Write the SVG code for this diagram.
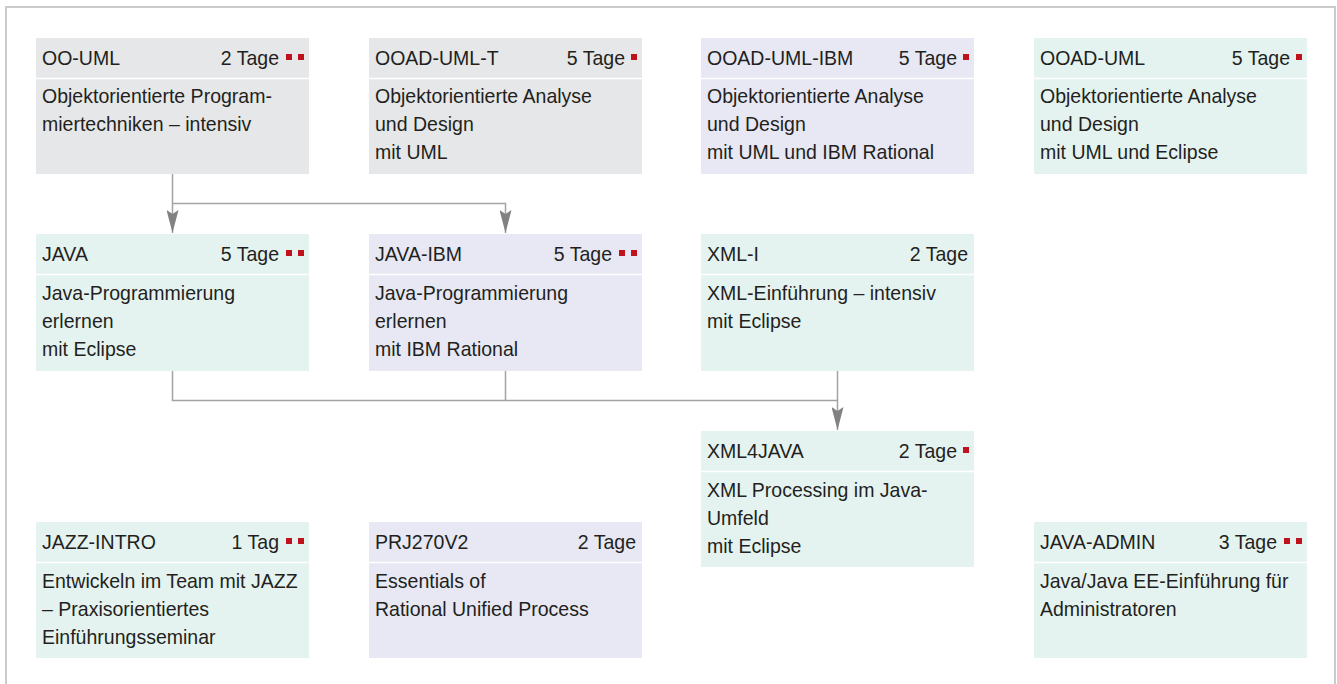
<svg xmlns="http://www.w3.org/2000/svg" width="1337" height="684" viewBox="0 0 1337 684">
<style>
  text { font-family: "Liberation Sans", Arial, sans-serif; font-size: 21px; fill: #231f20; }
  .r { text-anchor: end; }
  .grey { fill: #e6e7e8; }
  .lav { fill: #e7e8f4; }
  .mint { fill: #e5f3f0; }
  .div { stroke: #ffffff; stroke-width: 1.5; }
  .sq { fill: #c0121c; }
  .con { fill: none; stroke: #a3a3a3; stroke-width: 1.5; }
</style>
<defs>
  <marker id="arr" viewBox="0 0 23 12" refX="23" refY="6" markerWidth="23" markerHeight="12" markerUnits="userSpaceOnUse" orient="auto">
    <path d="M0,0 L23,6 L0,12 L4,6 Z" fill="#828282"/>
  </marker>
</defs>
<rect x="0" y="0" width="1337" height="684" fill="#ffffff"/>
<rect x="6" y="7" width="1329" height="720" fill="none" stroke="#cbcbcb" stroke-width="2"/>

<g id="connectors">
  <path class="con" d="M172.5,174 V233" marker-end="url(#arr)"/>
  <path class="con" d="M172.5,203.5 H505.5 V233" marker-end="url(#arr)"/>
  <path class="con" d="M172.5,371 V400.5 H837.5"/>
  <path class="con" d="M505.5,371 V400.5"/>
  <path class="con" d="M837.5,371 V430" marker-end="url(#arr)"/>
</g>

<g id="oo-uml" transform="translate(36,38)">
  <rect class="grey" width="273" height="136"/>
  <line class="div" x1="0" y1="40.5" x2="273" y2="40.5"/>
  <rect class="sq" x="250" y="16" width="6" height="6"/>
  <rect class="sq" x="262" y="16" width="6" height="6"/>
  <g transform="scale(0.93 1)">
    <text x="6.45" y="27">OO-UML</text>
    <text class="r" x="261.3" y="27">2 Tage</text>
    <text x="6.45" y="65">Objektorientierte Program-</text>
    <text x="6.45" y="93">miertechniken – intensiv</text>
  </g>
</g>

<g id="ooad-uml-t" transform="translate(369,38)">
  <rect class="grey" width="273" height="136"/>
  <line class="div" x1="0" y1="40.5" x2="273" y2="40.5"/>
  <rect class="sq" x="262" y="16" width="6" height="6"/>
  <g transform="scale(0.93 1)">
    <text x="6.45" y="27">OOAD-UML-T</text>
    <text class="r" x="275.3" y="27">5 Tage</text>
    <text x="6.45" y="65">Objektorientierte Analyse</text>
    <text x="6.45" y="93">und Design</text>
    <text x="6.45" y="121">mit UML</text>
  </g>
</g>

<g id="ooad-uml-ibm" transform="translate(701,38)">
  <rect class="lav" width="273" height="136"/>
  <line class="div" x1="0" y1="40.5" x2="273" y2="40.5"/>
  <rect class="sq" x="262" y="16" width="6" height="6"/>
  <g transform="scale(0.93 1)">
    <text x="6.45" y="27">OOAD-UML-IBM</text>
    <text class="r" x="275.3" y="27">5 Tage</text>
    <text x="6.45" y="65">Objektorientierte Analyse</text>
    <text x="6.45" y="93">und Design</text>
    <text x="6.45" y="121">mit UML und IBM Rational</text>
  </g>
</g>

<g id="ooad-uml" transform="translate(1034,38)">
  <rect class="mint" width="273" height="136"/>
  <line class="div" x1="0" y1="40.5" x2="273" y2="40.5"/>
  <rect class="sq" x="262" y="16" width="6" height="6"/>
  <g transform="scale(0.93 1)">
    <text x="6.45" y="27">OOAD-UML</text>
    <text class="r" x="275.3" y="27">5 Tage</text>
    <text x="6.45" y="65">Objektorientierte Analyse</text>
    <text x="6.45" y="93">und Design</text>
    <text x="6.45" y="121">mit UML und Eclipse</text>
  </g>
</g>

<g id="java" transform="translate(36,234)">
  <rect class="mint" width="273" height="137"/>
  <line class="div" x1="0" y1="40.5" x2="273" y2="40.5"/>
  <rect class="sq" x="250" y="16" width="6" height="6"/>
  <rect class="sq" x="262" y="16" width="6" height="6"/>
  <g transform="scale(0.93 1)">
    <text x="6.45" y="27">JAVA</text>
    <text class="r" x="261.3" y="27">5 Tage</text>
    <text x="6.45" y="66">Java-Programmierung</text>
    <text x="6.45" y="94">erlernen</text>
    <text x="6.45" y="122">mit Eclipse</text>
  </g>
</g>

<g id="java-ibm" transform="translate(369,234)">
  <rect class="lav" width="273" height="137"/>
  <line class="div" x1="0" y1="40.5" x2="273" y2="40.5"/>
  <rect class="sq" x="250" y="16" width="6" height="6"/>
  <rect class="sq" x="262" y="16" width="6" height="6"/>
  <g transform="scale(0.93 1)">
    <text x="6.45" y="27">JAVA-IBM</text>
    <text class="r" x="261.3" y="27">5 Tage</text>
    <text x="6.45" y="66">Java-Programmierung</text>
    <text x="6.45" y="94">erlernen</text>
    <text x="6.45" y="122">mit IBM Rational</text>
  </g>
</g>

<g id="xml-i" transform="translate(701,234)">
  <rect class="mint" width="273" height="137"/>
  <line class="div" x1="0" y1="40.5" x2="273" y2="40.5"/>
  <g transform="scale(0.93 1)">
    <text x="6.45" y="27">XML-I</text>
    <text class="r" x="287.1" y="27">2 Tage</text>
    <text x="6.45" y="66">XML-Einführung – intensiv</text>
    <text x="6.45" y="94">mit Eclipse</text>
  </g>
</g>

<g id="xml4java" transform="translate(701,431)">
  <rect class="mint" width="273" height="136"/>
  <line class="div" x1="0" y1="40.5" x2="273" y2="40.5"/>
  <rect class="sq" x="262" y="16" width="6" height="6"/>
  <g transform="scale(0.93 1)">
    <text x="6.45" y="27">XML4JAVA</text>
    <text class="r" x="275.3" y="27">2 Tage</text>
    <text x="6.45" y="66">XML Processing im Java-</text>
    <text x="6.45" y="94">Umfeld</text>
    <text x="6.45" y="122">mit Eclipse</text>
  </g>
</g>

<g id="jazz-intro" transform="translate(36,522)">
  <rect class="mint" width="273" height="136"/>
  <line class="div" x1="0" y1="40.5" x2="273" y2="40.5"/>
  <rect class="sq" x="250" y="16" width="6" height="6"/>
  <rect class="sq" x="262" y="16" width="6" height="6"/>
  <g transform="scale(0.93 1)">
    <text x="6.45" y="27">JAZZ-INTRO</text>
    <text class="r" x="261.3" y="27">1 Tag</text>
    <text x="6.45" y="66">Entwickeln im Team mit JAZZ</text>
    <text x="6.45" y="94">– Praxisorientiertes</text>
    <text x="6.45" y="122">Einführungsseminar</text>
  </g>
</g>

<g id="prj270v2" transform="translate(369,522)">
  <rect class="lav" width="273" height="136"/>
  <line class="div" x1="0" y1="40.5" x2="273" y2="40.5"/>
  <g transform="scale(0.93 1)">
    <text x="6.45" y="27">PRJ270V2</text>
    <text class="r" x="287.1" y="27">2 Tage</text>
    <text x="6.45" y="66">Essentials of</text>
    <text x="6.45" y="94">Rational Unified Process</text>
  </g>
</g>

<g id="java-admin" transform="translate(1034,522)">
  <rect class="mint" width="273" height="136"/>
  <line class="div" x1="0" y1="40.5" x2="273" y2="40.5"/>
  <rect class="sq" x="250" y="16" width="6" height="6"/>
  <rect class="sq" x="262" y="16" width="6" height="6"/>
  <g transform="scale(0.93 1)">
    <text x="6.45" y="27">JAVA-ADMIN</text>
    <text class="r" x="261.3" y="27">3 Tage</text>
    <text x="6.45" y="66">Java/Java EE-Einführung für</text>
    <text x="6.45" y="94">Administratoren</text>
  </g>
</g>
</svg>
